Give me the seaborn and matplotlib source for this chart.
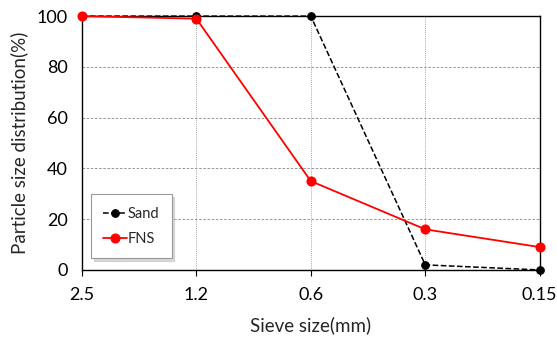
import matplotlib
matplotlib.use("Agg")
import matplotlib.pyplot as plt
import pandas as pd
import seaborn as sns

# sieve sizes (categorical, descending)
sieve_sizes = ["2.5", "1.2", "0.6", "0.3", "0.15"]
sand_values = [100, 100, 100, 2, 0]
fns_values = [100, 99, 35, 16, 9]
y_ticks = [0, 20, 40, 60, 80, 100]


def grading_chart():
    """particle size distribution chart"""
    sns.set_theme(style="white")
    plt.rcParams["font.family"] = ["Lato", "DejaVu Sans"]

    df = pd.DataFrame({"pos": range(len(sieve_sizes)),
                       "Sand": sand_values,
                       "FNS": fns_values})

    fig = plt.figure(figsize=(5.57, 3.43), dpi=100)
    ax = fig.add_axes([0.147, 0.213, 0.822, 0.740])

    sns.lineplot(data=df, x="pos", y="Sand", ax=ax, color="black",
                 linestyle="--", linewidth=1.1, marker="o", markersize=5.5,
                 markeredgecolor="black", label="Sand", sort=False,
                 clip_on=False, zorder=4)
    sns.lineplot(data=df, x="pos", y="FNS", ax=ax, color="red",
                 linestyle="-", linewidth=1.3, marker="o", markersize=6.5,
                 markeredgecolor="red", label="FNS", sort=False,
                 clip_on=False, zorder=5)

    ax.set_xlim(0, len(sieve_sizes) - 1)
    ax.set_ylim(0, 100)
    ax.set_xticks(range(len(sieve_sizes)))
    ax.set_xticklabels(sieve_sizes)
    ax.set_yticks(y_ticks)

    # grid: dashed horizontal, dotted vertical
    ax.grid(axis="y", color="#888888", linestyle=(0, (3, 2)), linewidth=0.6)
    ax.grid(axis="x", color="#888888", linestyle=(0, (1, 1.5)), linewidth=0.6)
    ax.set_axisbelow(True)

    for side in ax.spines.values():
        side.set_color("black")
        side.set_linewidth(1.0)
        side.set_visible(True)

    ax.tick_params(axis="both", direction="out", width=0.8,
                   color="black", labelsize=13, labelcolor="black",
                   bottom=True, left=True)
    ax.tick_params(axis="x", length=4, pad=8)
    ax.tick_params(axis="y", length=0, pad=10)
    ax.set_xlabel("Sieve size(mm)", fontsize=13.5, labelpad=10)
    ax.set_ylabel("Particle size distribution(%)", fontsize=13.5, labelpad=6)

    leg = ax.legend(loc="lower left", bbox_to_anchor=(0.02, 0.047),
                    frameon=True, fancybox=False,
                    shadow={"color": "#b5b5b5"},
                    fontsize=10.5, handlelength=1.6, handletextpad=0.05,
                    labelspacing=0.75, borderpad=0.85, borderaxespad=0)
    leg.get_frame().set_edgecolor("#999999")
    leg.get_frame().set_linewidth(0.8)

    fig.savefig("out.png", dpi=100)


if __name__ == '__main__':
    grading_chart()
